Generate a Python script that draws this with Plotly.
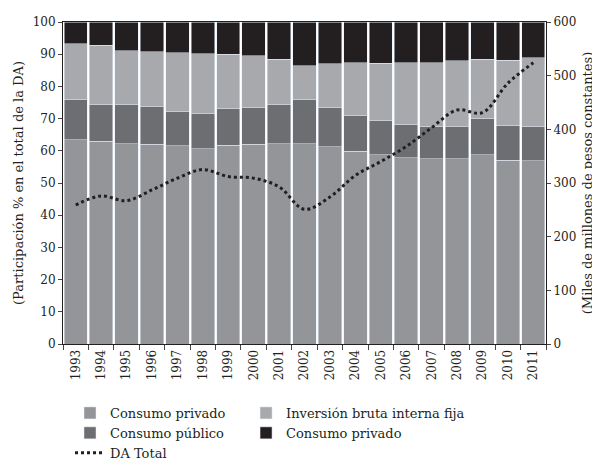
import plotly.graph_objects as go

years = [str(y) for y in range(1993, 2012)]
# cumulative boundaries (percent)
consumo_privado = [63.4, 62.9, 62.2, 62.1, 61.5, 60.6, 61.7, 62.1, 62.2, 62.2, 61.2, 59.9, 58.7, 57.8, 57.5, 57.5, 58.7, 57.1, 56.9]
top_publico = [75.8, 74.3, 74.3, 73.7, 72.2, 71.5, 73.1, 73.4, 74.3, 75.8, 73.4, 71.1, 69.3, 68.1, 67.5, 67.5, 69.9, 68.0, 67.7]
top_inversion = [93.2, 92.8, 91.0, 90.7, 90.5, 90.2, 90.0, 89.5, 88.5, 86.4, 87.0, 87.3, 87.2, 87.3, 87.3, 87.9, 88.5, 88.1, 88.9]
consumo_publico = [round(b - a, 1) for a, b in zip(consumo_privado, top_publico)]
inversion = [round(b - a, 1) for a, b in zip(top_publico, top_inversion)]
resto = [round(100 - t, 1) for t in top_inversion]
da_total = [259, 276, 267, 287, 309, 325, 312, 309, 293, 251, 274, 314, 340, 368, 403, 436, 431, 486, 524]

c_priv = "#939598"
c_pub = "#6d6e71"
c_inv = "#a7a9ac"
c_blk = "#231f20"
font_family = "DejaVu Serif, Liberation Serif, serif"

fig = go.Figure()
fig.add_trace(go.Bar(x=years, y=consumo_privado, name="Consumo privado", marker_color=c_priv,
                     legend="legend", legendgroup="a"))
fig.add_trace(go.Bar(x=years, y=consumo_publico, name="Consumo público", marker_color=c_pub,
                     legend="legend", legendgroup="b"))
fig.add_trace(go.Bar(x=years, y=inversion, name="Inversión bruta interna fija", marker_color=c_inv,
                     legend="legend2", legendgroup="d"))
fig.add_trace(go.Bar(x=years, y=resto, name="Consumo privado", marker_color=c_blk,
                     legend="legend2", legendgroup="e"))
fig.add_trace(go.Scatter(x=years, y=da_total, name="DA Total", yaxis="y2", mode="lines",
                         line=dict(color=c_blk, width=3, dash="dot", shape="spline"),
                         legend="legend", legendgroup="c"))

fig.update_layout(
    width=592, height=454,
    margin=dict(l=55, r=54, t=14, b=118, autoexpand=False),
    barmode="stack", bargap=0.08,
    paper_bgcolor="white", plot_bgcolor="white",
    font=dict(family=font_family, size=12, color="#231f20"),
    xaxis=dict(type="category", tickangle=-90, tickson="boundaries", ticks="outside", ticklen=5,
               showline=True, linecolor="#231f20", linewidth=1, mirror=True, showgrid=False,
               automargin=False, tickfont=dict(size=12)),
    yaxis=dict(range=[0, 100], dtick=10, ticks="outside", ticklen=4, showline=True, linecolor="#231f20",
               showgrid=False, zeroline=False, automargin=True,
               title=dict(text="(Participación % en el total de la DA)", font=dict(size=13), standoff=6)),
    yaxis2=dict(range=[0, 600], dtick=100, overlaying="y", side="right", ticks="outside", ticklen=4,
                showline=True, linecolor="#231f20", showgrid=False, zeroline=False, automargin=True,
                title=dict(text="(Miles de millones de pesos constantes)", font=dict(size=13), standoff=7)),
    legend=dict(x=0.0145, xanchor="left", y=0.141, yref="container", yanchor="top", orientation="v",
                traceorder="normal", font=dict(size=13), bgcolor="rgba(0,0,0,0)", tracegroupgap=5),
    legend2=dict(x=0.379, xanchor="left", y=0.141, yref="container", yanchor="top", orientation="v",
                 traceorder="normal", font=dict(size=13), bgcolor="rgba(0,0,0,0)", tracegroupgap=5),
)

fig.write_html("out.html")
